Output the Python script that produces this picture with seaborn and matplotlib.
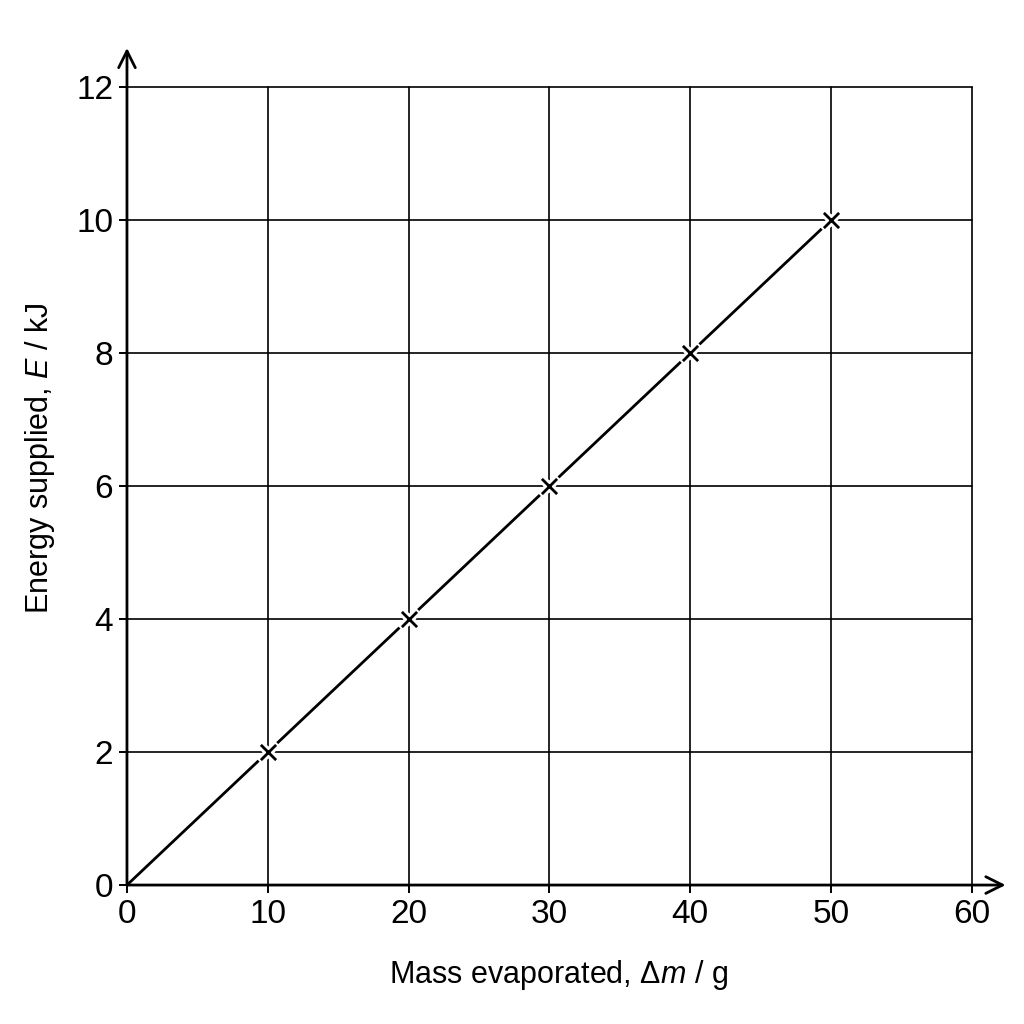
import matplotlib
matplotlib.use("Agg")
import matplotlib.pyplot as plt
import seaborn as sns
import pandas as pd

# data
mass = [0, 10, 20, 30, 40, 50]
energy = [0, 2, 4, 6, 8, 10]
marker_mass = [10, 20, 30, 40, 50]
marker_energy = [2, 4, 6, 8, 10]
x_ticks = [0, 10, 20, 30, 40, 50, 60]
y_ticks = [0, 2, 4, 6, 8, 10, 12]

sns.set_theme(style="white")
plt.rcParams['font.family'] = ['Liberation Sans', 'DejaVu Sans']
plt.rcParams['mathtext.fontset'] = 'custom'
plt.rcParams['mathtext.rm'] = 'Liberation Sans'
plt.rcParams['mathtext.it'] = 'Liberation Sans:italic'

fig = plt.figure(figsize=(10.24, 10.24), dpi=100)
ax = fig.add_axes([0.124, 0.1357, 0.825, 0.7793])

line_df = pd.DataFrame({"m": mass, "E": energy})
mk_df = pd.DataFrame({"m": marker_mass, "E": marker_energy})

sns.lineplot(data=line_df, x="m", y="E", ax=ax, color="black", linewidth=2.0, zorder=3)
# white halo to break the line around markers
sns.scatterplot(data=mk_df, x="m", y="E", ax=ax, marker="x", s=170, color="white",
                linewidth=6, zorder=4)
sns.scatterplot(data=mk_df, x="m", y="E", ax=ax, marker="x", s=120, color="black",
                linewidth=2.0, zorder=5)

ax.set_xlim(0, 60)
ax.set_ylim(0, 12)
ax.set_xticks(x_ticks)
ax.set_yticks(y_ticks)
ax.grid(True, color="black", linewidth=1.2)
ax.set_axisbelow(True)
for gl in ax.get_xgridlines() + ax.get_ygridlines():
    gl.set_clip_on(False)

for s in ["top", "right", "left", "bottom"]:
    ax.spines[s].set_visible(False)

ax.tick_params(axis="both", which="major", direction="out", length=6, width=1.4,
               color="black", labelsize=24, labelcolor="black", pad=4,
               bottom=True, left=True)

# axes with arrows
ax.annotate("", xy=(1.04, 0), xytext=(0, 0), xycoords="axes fraction",
            arrowprops=dict(arrowstyle="->", color="black", lw=2.0,
                            mutation_scale=30, shrinkA=0, shrinkB=0),
            annotation_clip=False, zorder=6)
ax.annotate("", xy=(0, 1.049), xytext=(0, 0), xycoords="axes fraction",
            arrowprops=dict(arrowstyle="->", color="black", lw=2.0,
                            mutation_scale=30, shrinkA=0, shrinkB=0),
            annotation_clip=False, zorder=6)

ax.set_xlabel("Mass evaporated, Δ$m$ / g", fontsize=22, color="black", labelpad=20)
ax.set_ylabel("Energy supplied, $E$ / kJ", fontsize=22, color="black", labelpad=14)
ax.xaxis.label.set_x(0.511)
ax.yaxis.label.set_y(0.535)

fig.savefig("out.png", dpi=100, facecolor="white")
